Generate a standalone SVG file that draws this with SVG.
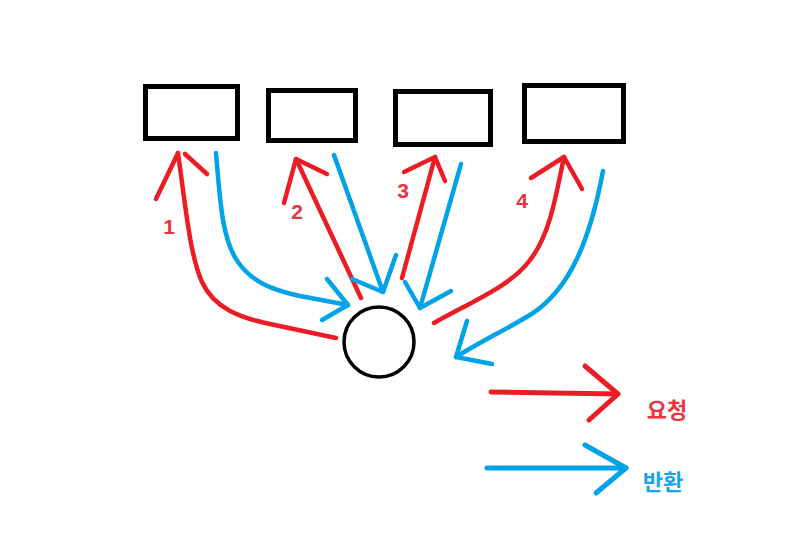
<svg xmlns="http://www.w3.org/2000/svg" width="789" height="538" viewBox="0 0 789 538">
<style>
.box{fill:#fff;stroke:#000;stroke-width:5}
.req{fill:none;stroke:#ed1c24;stroke-width:4.5;stroke-linecap:round;stroke-linejoin:round}
.res{fill:none;stroke:#00a2e8;stroke-width:4.5;stroke-linecap:round;stroke-linejoin:round}
.num{font-family:"Liberation Sans","Noto Sans CJK KR",sans-serif;font-weight:bold;font-size:21px;fill:#ee3340;text-anchor:middle}
.lg{font-family:"Noto Sans CJK KR","Liberation Sans",sans-serif;font-weight:bold;font-size:22px;text-anchor:middle}
</style>
<rect width="789" height="538" fill="#fff"/>
<g id="box1"><rect class="box" x="145.5" y="86.5" width="92" height="52"/></g>
<g id="box2"><rect class="box" x="268.5" y="90.5" width="87" height="50"/></g>
<g id="box3"><rect class="box" x="395.5" y="91.5" width="95" height="53"/></g>
<g id="box4"><rect class="box" x="524.5" y="85.5" width="99" height="56"/></g>
<g id="client"><circle cx="379" cy="342" r="35" fill="#fff" stroke="#000" stroke-width="3.5"/></g>
<g id="connectors">
<path class="req" d="M178,153 C186,210 190,255 202,282 C214,308 240,318 270,324 L336,338"/>
<path class="req" d="M156,199 L178,153"/>
<path class="req" d="M185,154 L207,174"/>
<path class="res" d="M216,153 C220,200 222,240 238,262 C252,282 272,290 300,296 L348,305"/>
<path class="res" d="M327,279 L348,305 L322,320"/>
<path class="req" d="M296,159 L361,298"/>
<path class="req" d="M284,203 L296,159 L327,174"/>
<path class="res" d="M334,155 L383,292"/>
<path class="res" d="M352,279 L383,292 L396,255"/>
<path class="req" d="M435,157 L402,278"/>
<path class="req" d="M404,172 L435,157 L445,181"/>
<path class="res" d="M461,164 L420,308"/>
<path class="res" d="M405,282 L420,308 L451,291"/>
<path class="req" d="M564,157 C556,195 550,235 530,260 C512,285 475,300 434,323"/>
<path class="req" d="M531,178 L564,157 L582,189"/>
<path class="res" d="M603,171 C590,240 570,290 530,315 C505,330 480,342 456,357"/>
<path class="res" d="M467,321 L456,357 L492,364"/>
</g>
<g id="labels">
<text class="num" x="169" y="234">1</text>
<text class="num" x="297" y="219">2</text>
<text class="num" x="403" y="198">3</text>
<text class="num" x="522" y="208">4</text>
</g>
<g id="legend">
<path class="req" style="stroke-width:5" d="M491,392 L618,394"/>
<path class="req" style="stroke-width:5" d="M585,366 L618,394 L589,420"/>
<path class="res" style="stroke-width:5" d="M487,468 L626,468"/>
<path class="res" style="stroke-width:5" d="M585,445 L626,468 L596,493"/>
<text class="lg" x="667" y="418" fill="#ee3340">요청</text>
<text class="lg" x="663" y="490" fill="#1aa3e8">반환</text>
</g>
</svg>
